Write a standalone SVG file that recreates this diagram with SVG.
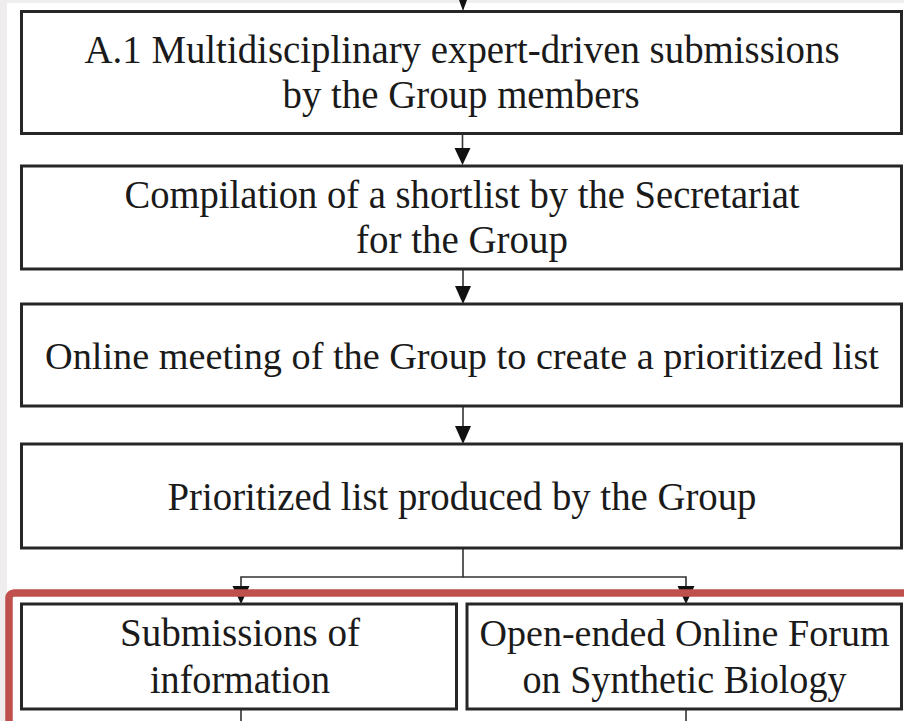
<svg xmlns="http://www.w3.org/2000/svg" width="904" height="721" viewBox="0 0 904 721">
<style>
.box{fill:#fff;stroke:#262626;stroke-width:3}
.t{font-family:"Liberation Serif","Times New Roman",serif;font-size:41px;fill:#1a1a1a;text-anchor:middle}
.s{font-size:38px}
.c{stroke:#333;stroke-width:1.6;fill:none}
.ah{fill:#111}
</style>
<rect x="0" y="0" width="904" height="721" fill="#fff"/>
<rect x="0" y="0" width="904" height="3" fill="#efeded"/>
<rect x="0" y="0" width="7" height="721" fill="#efeded"/>
<g id="connectors">
<line class="c" x1="463" y1="0" x2="463" y2="8"/>
<polygon class="ah" points="459,0 467,0 463,11"/>
<line class="c" x1="462.5" y1="134" x2="462.5" y2="150"/>
<polygon class="ah" points="454.5,148 470.5,148 462.5,165"/>
<line class="c" x1="463" y1="269" x2="463" y2="288"/>
<polygon class="ah" points="455,286 471,286 463,304"/>
<line class="c" x1="463" y1="406" x2="463" y2="428"/>
<polygon class="ah" points="455,426 471,426 463,444"/>
<polyline class="c" points="463,549 463,577 241,577 241,588"/>
<polyline class="c" points="463,577 686,577 686,588"/>
<polygon class="ah" points="232.5,586 249.5,586 241,604"/>
<polygon class="ah" points="677.5,586 694.5,586 686,604"/>
<line class="c" x1="241" y1="710" x2="241" y2="721"/>
<line class="c" x1="686" y1="710" x2="686" y2="721"/>
</g>
<g id="n1">
<rect class="box" x="21.5" y="11.5" width="880" height="122"/>
<text class="t" x="462" y="63" textLength="755" lengthAdjust="spacingAndGlyphs">A.1 Multidisciplinary expert-driven submissions</text>
<text class="t" x="461" y="108" textLength="357" lengthAdjust="spacingAndGlyphs">by the Group members</text>
</g>
<g id="n2">
<rect class="box" x="21.5" y="166" width="880" height="103"/>
<text class="t" x="462" y="208" textLength="675" lengthAdjust="spacingAndGlyphs">Compilation of a shortlist by the Secretariat</text>
<text class="t" x="462" y="253" textLength="212" lengthAdjust="spacingAndGlyphs">for the Group</text>
</g>
<g id="n3">
<rect class="box" x="21.5" y="304" width="880" height="102"/>
<text class="t s" x="462" y="369" textLength="834" lengthAdjust="spacingAndGlyphs">Online meeting of the Group to create a prioritized list</text>
</g>
<g id="n4">
<rect class="box" x="21.5" y="444" width="880" height="104"/>
<text class="t" x="462" y="510" textLength="589" lengthAdjust="spacingAndGlyphs">Prioritized list produced by the Group</text>
</g>
<g id="n5">
<rect class="box" x="21.5" y="604" width="435" height="105"/>
<text class="t" x="240" y="646" textLength="240" lengthAdjust="spacingAndGlyphs">Submissions of</text>
<text class="t" x="240" y="693" textLength="180" lengthAdjust="spacingAndGlyphs">information</text>
</g>
<g id="n6">
<rect class="box" x="467" y="604" width="434.5" height="105"/>
<text class="t s" x="684.5" y="646" textLength="410" lengthAdjust="spacingAndGlyphs">Open-ended Online Forum</text>
<text class="t" x="684.5" y="693" textLength="324" lengthAdjust="spacingAndGlyphs">on Synthetic Biology</text>
</g>
<rect id="highlight" x="9" y="593" width="910" height="140" rx="5" fill="none" stroke="#c0504d" stroke-width="7.5"/>
</svg>
